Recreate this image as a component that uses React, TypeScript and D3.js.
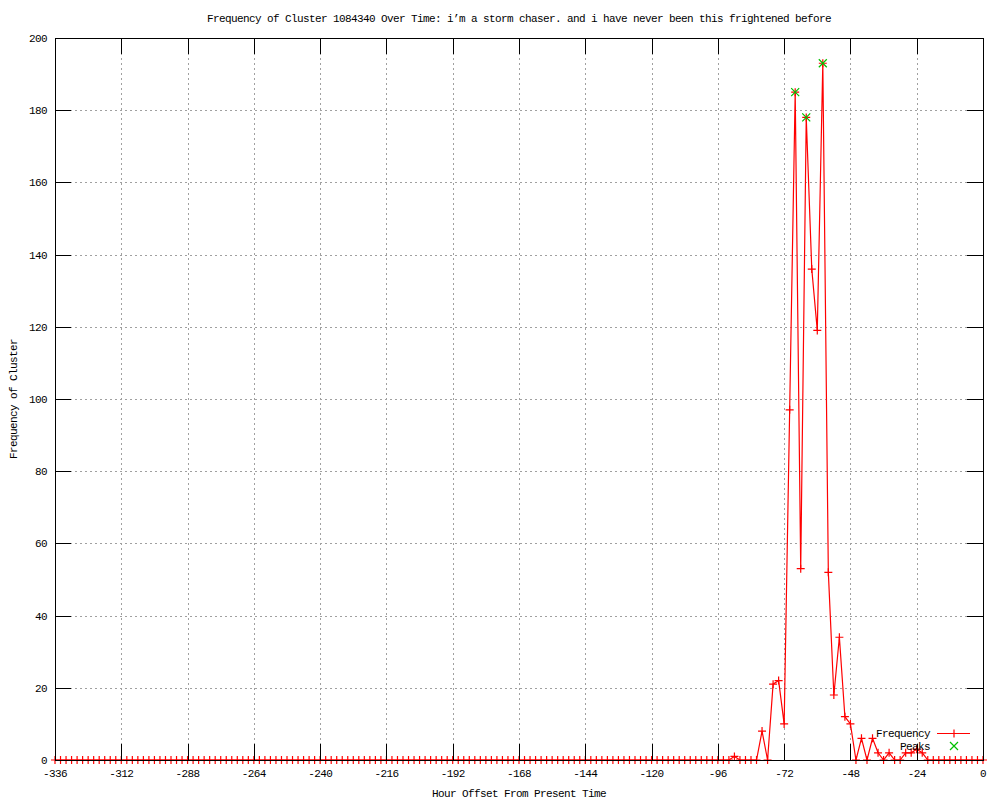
import * as d3 from 'd3';

// hourly buckets, every 2 hours from -336 to 0
const START_HOUR = -336;
const STEP_HOURS = 2;

const frequency = [
  0, 0, 0, 0, 0, 0, 0, 0, 0, 0, 0, 0, // -336 .. -314
  0, 0, 0, 0, 0, 0, 0, 0, 0, 0, 0, 0, // -312 .. -290
  0, 0, 0, 0, 0, 0, 0, 0, 0, 0, 0, 0, // -288 .. -266
  0, 0, 0, 0, 0, 0, 0, 0, 0, 0, 0, 0, // -264 .. -242
  0, 0, 0, 0, 0, 0, 0, 0, 0, 0, 0, 0, // -240 .. -218
  0, 0, 0, 0, 0, 0, 0, 0, 0, 0, 0, 0, // -216 .. -194
  0, 0, 0, 0, 0, 0, 0, 0, 0, 0, 0, 0, // -192 .. -170
  0, 0, 0, 0, 0, 0, 0, 0, 0, 0, 0, 0, // -168 .. -146
  0, 0, 0, 0, 0, 0, 0, 0, 0, 0, 0, 0, // -144 .. -122
  0, 0, 0, 0, 0, 0, 0, 0, 0, 0, 0, 0, // -120 .. -98
  0, 0, 0, 1, 0, 0, 0, 0, 8, 0, 21, 22, // -96 .. -74
  10, 97, 185, 53, 178, 136, 119, 193, 52, 18, 34, 12, // -72 .. -50
  10, 0, 6, 0, 6, 2, 0, 2, 0, 0, 2, 2, // -48 .. -26
  3, 2, 0, 0, 0, 0, 0, 0, 0, 0, 0, 0, // -24 .. -2
  0, // 0
];

const peakHours = [-68, -64, -58];
const peakValues = [185, 178, 193];

const xTicks = [-336, -312, -288, -264, -240, -216, -192, -168, -144, -120, -96, -72, -48, -24, 0];
const yTicks = [0, 20, 40, 60, 80, 100, 120, 140, 160, 180, 200];

const TITLE = 'Frequency of Cluster 1084340 Over Time: i\u2019m a storm chaser. and i have never been this frightened before';

const font = {
  fontFamily: '"Liberation Mono", "DejaVu Sans Mono", monospace',
  fontSize: '11px',
  letterSpacing: '-0.6px',
};

export default function App() {
  const width = 1000;
  const height = 800;
  const margin = { top: 38, right: 17, bottom: 40, left: 55 };
  const tick = 16;
  const ps = 4; // point half-size

  const x = d3.scaleLinear().domain([-336, 0]).range([margin.left, width - margin.right]);
  const y = d3.scaleLinear().domain([0, 200]).range([height - margin.bottom, margin.top]);

  const pts = frequency.map((v, i) => ({ h: START_HOUR + i * STEP_HOURS, v }));
  const peaks = peakHours.map((h, i) => ({ h, v: peakValues[i] }));

  const line = d3.line<{ h: number; v: number }>()
    .x(d => x(d.h))
    .y(d => y(d.v));

  const plus = (cx: number, cy: number) =>
    `M${cx - ps},${cy}H${cx + ps}M${cx},${cy - ps}V${cy + ps}`;
  const cross = (cx: number, cy: number) =>
    `M${cx - ps},${cy - ps}L${cx + ps},${cy + ps}M${cx - ps},${cy + ps}L${cx + ps},${cy - ps}`;

  const x0 = margin.left;
  const x1 = width - margin.right;
  const y0 = height - margin.bottom;
  const y1 = margin.top;
  const midX = (x0 + x1) / 2;
  const midY = (y0 + y1) / 2;

  // legend
  const legX = 930;
  const legLine = [937, 970];
  const legPt = 954;

  return (
    <svg width={width} height={height} style={{ position: 'absolute', left: 0, top: 0, background: '#fff' }}>
      <rect width={width} height={height} fill="#fff" />

      {/* grid */}
      <g stroke="#a0a0a0" strokeWidth={1} strokeDasharray="2,3" shapeRendering="crispEdges">
        {xTicks.filter(t => t !== -336 && t !== 0).map(t => (
          <line key={`gx${t}`} x1={Math.round(x(t)) + 0.5} x2={Math.round(x(t)) + 0.5} y1={y1} y2={y0} />
        ))}
        {yTicks.filter(t => t !== 0 && t !== 200).map(t => (
          <line key={`gy${t}`} x1={x0} x2={x1} y1={Math.round(y(t)) + 0.5} y2={Math.round(y(t)) + 0.5} />
        ))}
      </g>

      {/* frequency series */}
      <path d={line(pts) || ''} fill="none" stroke="#ff0000" strokeWidth={1.2} />
      <path d={pts.map(p => plus(x(p.h), y(p.v))).join('')} fill="none" stroke="#ff0000" strokeWidth={1.2} />

      {/* peaks */}
      <path d={peaks.map(p => cross(x(p.h), y(p.v))).join('')} fill="none" stroke="#00c000" strokeWidth={1.2} />

      {/* border and ticks */}
      <g stroke="#000" strokeWidth={1} shapeRendering="crispEdges" fill="none">
        <rect x={x0 + 0.5} y={y1 + 0.5} width={x1 - x0} height={y0 - y1} />
        {xTicks.map(t => {
          const px = Math.round(x(t)) + 0.5;
          return (
            <g key={`tx${t}`}>
              <line x1={px} x2={px} y1={y0} y2={y0 - tick} />
              <line x1={px} x2={px} y1={y1} y2={y1 + tick} />
            </g>
          );
        })}
        {yTicks.map(t => {
          const py = Math.round(y(t)) + 0.5;
          return (
            <g key={`ty${t}`}>
              <line x1={x0} x2={x0 + tick} y1={py} y2={py} />
              <line x1={x1} x2={x1 - tick} y1={py} y2={py} />
            </g>
          );
        })}
      </g>

      {/* tick labels */}
      <g style={font} fill="#000">
        {xTicks.map(t => (
          <text key={`lx${t}`} x={x(t)} y={y0 + 17} textAnchor="middle">{t}</text>
        ))}
        {yTicks.map(t => (
          <text key={`ly${t}`} x={x0 - 8} y={y(t) + 4} textAnchor="end">{t}</text>
        ))}
      </g>

      {/* titles */}
      <g style={font} fill="#000">
        <text x={midX} y={22} textAnchor="middle">{TITLE}</text>
        <text x={midX} y={797} textAnchor="middle">Hour Offset From Present Time</text>
        <text transform={`translate(17,${midY}) rotate(-90)`} textAnchor="middle">Frequency of Cluster</text>
      </g>

      {/* legend */}
      <g style={font} fill="#000">
        <text x={legX} y={737} textAnchor="end">Frequency</text>
        <text x={legX} y={750} textAnchor="end">Peaks</text>
      </g>
      <line x1={legLine[0]} x2={legLine[1]} y1={733.5} y2={733.5} stroke="#ff0000" strokeWidth={1.2} />
      <path d={plus(legPt, 733.5)} stroke="#ff0000" strokeWidth={1.2} fill="none" />
      <path d={cross(legPt, 746)} stroke="#00c000" strokeWidth={1.2} fill="none" />
    </svg>
  );
}
